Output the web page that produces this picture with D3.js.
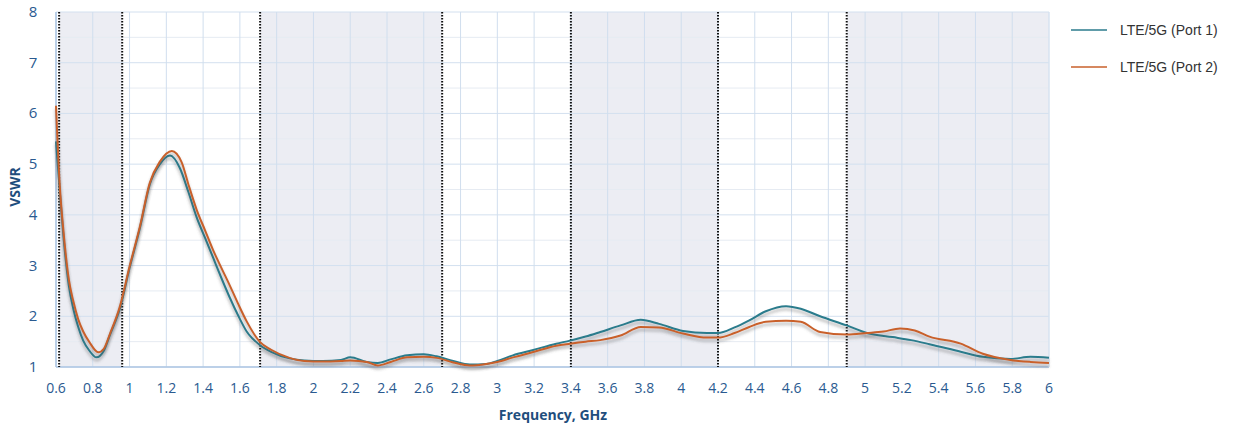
<!DOCTYPE html>
<html>
<head>
<meta charset="utf-8">
<script src="https://cdn.jsdelivr.net/npm/d3@7"></script>
<style>
  body { margin: 0; background: #fff; }
  svg { display: block; }
</style>
</head>
<body>
<svg id="chart" width="1236" height="429"></svg>
<script>
// frequency (GHz) samples for each trace
var freqPort1 = [0.6, 0.62, 0.64, 0.67, 0.694, 0.72, 0.748, 0.78, 0.82, 0.86, 0.894, 0.948, 1.0, 1.057, 1.11, 1.165, 1.22, 1.274, 1.32, 1.365, 1.41, 1.455, 1.5, 1.546, 1.59, 1.637, 1.71, 1.77, 1.87, 1.95, 2.05, 2.15, 2.2, 2.29, 2.35, 2.42, 2.51, 2.6, 2.67, 2.76, 2.85, 2.94, 3.0, 3.085, 3.19, 3.32, 3.395, 3.48, 3.56, 3.67, 3.78, 3.88, 4.01, 4.14, 4.2, 4.29, 4.37, 4.46, 4.57, 4.65, 4.755, 4.9, 5.01, 5.15, 5.25, 5.35, 5.52, 5.64, 5.79, 5.9, 6.0];
var vswrPort1 = [5.45, 4.5, 3.6, 2.6, 2.15, 1.8, 1.52, 1.33, 1.19, 1.32, 1.64, 2.16, 2.95, 3.75, 4.6, 5.0, 5.17, 4.92, 4.45, 3.95, 3.55, 3.15, 2.75, 2.36, 2.02, 1.7, 1.43, 1.3, 1.17, 1.13, 1.12, 1.14, 1.19, 1.1, 1.08, 1.15, 1.23, 1.25, 1.21, 1.12, 1.05, 1.06, 1.12, 1.23, 1.33, 1.46, 1.52, 1.6, 1.69, 1.82, 1.93, 1.85, 1.71, 1.67, 1.67, 1.78, 1.92, 2.1, 2.2, 2.15, 2.0, 1.82, 1.67, 1.59, 1.53, 1.45, 1.3, 1.2, 1.16, 1.2, 1.18];

var freqPort2 = [0.6, 0.62, 0.64, 0.67, 0.694, 0.72, 0.748, 0.78, 0.83, 0.86, 0.894, 0.948, 1.0, 1.057, 1.11, 1.165, 1.23, 1.283, 1.32, 1.365, 1.41, 1.455, 1.5, 1.546, 1.59, 1.637, 1.71, 1.77, 1.87, 1.95, 2.05, 2.15, 2.2, 2.29, 2.35, 2.42, 2.51, 2.6, 2.67, 2.76, 2.85, 2.94, 3.0, 3.085, 3.19, 3.32, 3.395, 3.48, 3.56, 3.67, 3.78, 3.88, 4.01, 4.14, 4.2, 4.29, 4.37, 4.46, 4.57, 4.65, 4.755, 4.9, 5.01, 5.1, 5.19, 5.27, 5.35, 5.52, 5.64, 5.79, 5.9, 6.0];
var vswrPort2 = [6.15, 4.6, 3.7, 2.72, 2.3, 1.95, 1.7, 1.5, 1.29, 1.36, 1.66, 2.2, 2.98, 3.78, 4.63, 5.05, 5.26, 5.04, 4.6, 4.1, 3.7, 3.3, 2.95, 2.6, 2.25, 1.9, 1.49, 1.34, 1.18, 1.12, 1.11, 1.12, 1.13, 1.1, 1.03, 1.1, 1.19, 1.2, 1.18, 1.09, 1.03, 1.06, 1.1, 1.19, 1.29, 1.42, 1.46, 1.5, 1.53, 1.62, 1.79, 1.78, 1.66, 1.58, 1.58, 1.67, 1.79, 1.89, 1.91, 1.89, 1.69, 1.64, 1.67, 1.7, 1.76, 1.72, 1.6, 1.46, 1.26, 1.14, 1.1, 1.08];

var seriesNames = ["LTE/5G (Port 1)", "LTE/5G (Port 2)"];
var seriesColors = ["#2b7b8c", "#c9612b"];

// LTE / 5G bands (shaded) and the band edges (dotted)
var bands = [[0.617, 0.96], [1.71, 2.7], [3.4, 4.2], [4.9, 6.0]];
var bandEdges = [0.617, 0.96, 1.71, 2.7, 3.4, 4.2, 4.9];

var xTicks = [0.6, 0.8, 1, 1.2, 1.4, 1.6, 1.8, 2, 2.2, 2.4, 2.6, 2.8, 3, 3.2, 3.4, 3.6, 3.8, 4, 4.2, 4.4, 4.6, 4.8, 5, 5.2, 5.4, 5.6, 5.8, 6];
var yTicks = [1, 2, 3, 4, 5, 6, 7, 8];
var yHalfTicks = [1.5, 2.5, 3.5, 4.5, 5.5, 6.5, 7.5];

var svg = d3.select("#chart");
var pl = 56, pr = 1049, pt = 12, pb = 367;

var x = d3.scaleLinear().domain([0.6, 6]).range([pl, pr]);
var y = d3.scaleLinear().domain([1, 8]).range([pb, pt]);

var defs = svg.append("defs");
var f = defs.append("filter").attr("id", "shadow")
  .attr("x", "-5%").attr("y", "-5%").attr("width", "110%").attr("height", "120%");
f.append("feDropShadow").attr("dx", 0).attr("dy", 3).attr("stdDeviation", 1.6)
  .attr("flood-color", "#555").attr("flood-opacity", 0.45);

var g = svg.append("g");

// bands
g.selectAll(".band").data(bands).enter().append("rect")
  .attr("x", d => x(d[0]))
  .attr("width", d => x(d[1]) - x(d[0]))
  .attr("y", pt).attr("height", pb - pt)
  .attr("fill", "#ecedf3");

// grid
g.selectAll(".hminor").data(yHalfTicks).enter().append("line")
  .attr("x1", pl).attr("x2", pr)
  .attr("y1", d => y(d)).attr("y2", d => y(d))
  .attr("stroke", "#e6ebf2").attr("stroke-width", 1);
g.selectAll(".hmajor").data(yTicks).enter().append("line")
  .attr("x1", pl).attr("x2", pr)
  .attr("y1", d => y(d)).attr("y2", d => y(d))
  .attr("stroke", "#d3e0ef").attr("stroke-width", 1);
g.selectAll(".vgrid").data(xTicks).enter().append("line")
  .attr("x1", d => x(d)).attr("x2", d => x(d))
  .attr("y1", pt).attr("y2", pb)
  .attr("stroke", "#d0deee").attr("stroke-width", 1);

// axes frame
g.append("line").attr("x1", pl).attr("x2", pl).attr("y1", pt).attr("y2", pb)
  .attr("stroke", "#adc6e3").attr("stroke-width", 1.5);
g.append("line").attr("x1", pl).attr("x2", pr).attr("y1", pb).attr("y2", pb)
  .attr("stroke", "#adc6e3").attr("stroke-width", 1.5);
g.append("line").attr("x1", pr).attr("x2", pr).attr("y1", pt).attr("y2", pb)
  .attr("stroke", "#dbe5f1").attr("stroke-width", 1);

// band edges
g.selectAll(".edge").data(bandEdges).enter().append("line")
  .attr("x1", d => x(d)).attr("x2", d => x(d))
  .attr("y1", pt).attr("y2", pb)
  .attr("stroke", "#111").attr("stroke-width", 2)
  .attr("stroke-dasharray", "1.5,1.5");

// traces
var line = d3.line()
  .x(d => x(d[0])).y(d => y(d[1]))
  .curve(d3.curveMonotoneX);

var traces = [d3.zip(freqPort1, vswrPort1), d3.zip(freqPort2, vswrPort2)];
g.selectAll(".trace").data(traces).enter().append("path")
  .attr("d", line)
  .attr("fill", "none")
  .attr("stroke", (d, i) => seriesColors[i])
  .attr("stroke-width", 2)
  .attr("filter", "url(#shadow)");

// tick labels
var tickFont = "'Open Sans', 'DejaVu Sans', sans-serif";
svg.selectAll(".xt").data(xTicks).enter().append("text")
  .attr("x", d => x(d)).attr("y", 393)
  .attr("text-anchor", "middle")
  .attr("fill", "#2a5a90")
  .style("font-family", tickFont).style("font-size", "14px")
  .text(d => d);

svg.selectAll(".yt").data(yTicks).enter().append("text")
  .attr("x", 33).attr("y", d => y(d) + 5)
  .attr("text-anchor", "middle")
  .attr("fill", "#2a5a90")
  .style("font-family", tickFont).style("font-size", "15px")
  .text(d => d);

svg.append("text")
  .attr("x", 553).attr("y", 420)
  .attr("text-anchor", "middle")
  .attr("fill", "#1f4e7d")
  .style("font-family", tickFont).style("font-size", "14px").style("font-weight", "bold")
  .text("Frequency, GHz");

svg.append("text")
  .attr("transform", "translate(20,187) rotate(-90)")
  .attr("text-anchor", "middle")
  .attr("fill", "#1f4e7d")
  .style("font-family", tickFont).style("font-size", "14px").style("font-weight", "bold")
  .text("VSWR");

// legend
var lg = svg.selectAll(".lg").data(seriesNames).enter().append("g")
  .attr("transform", (d, i) => "translate(1071," + (30 + i * 37) + ")");
lg.append("line").attr("x1", 0).attr("x2", 36).attr("y1", 0).attr("y2", 0)
  .attr("stroke", (d, i) => seriesColors[i]).attr("stroke-width", 1.5);
lg.append("text").attr("x", 49).attr("y", 5)
  .attr("fill", "#333")
  .style("font-family", "'Liberation Sans', Arial, sans-serif").style("font-size", "14px")
  .text(d => d);
</script>
</body>
</html>
